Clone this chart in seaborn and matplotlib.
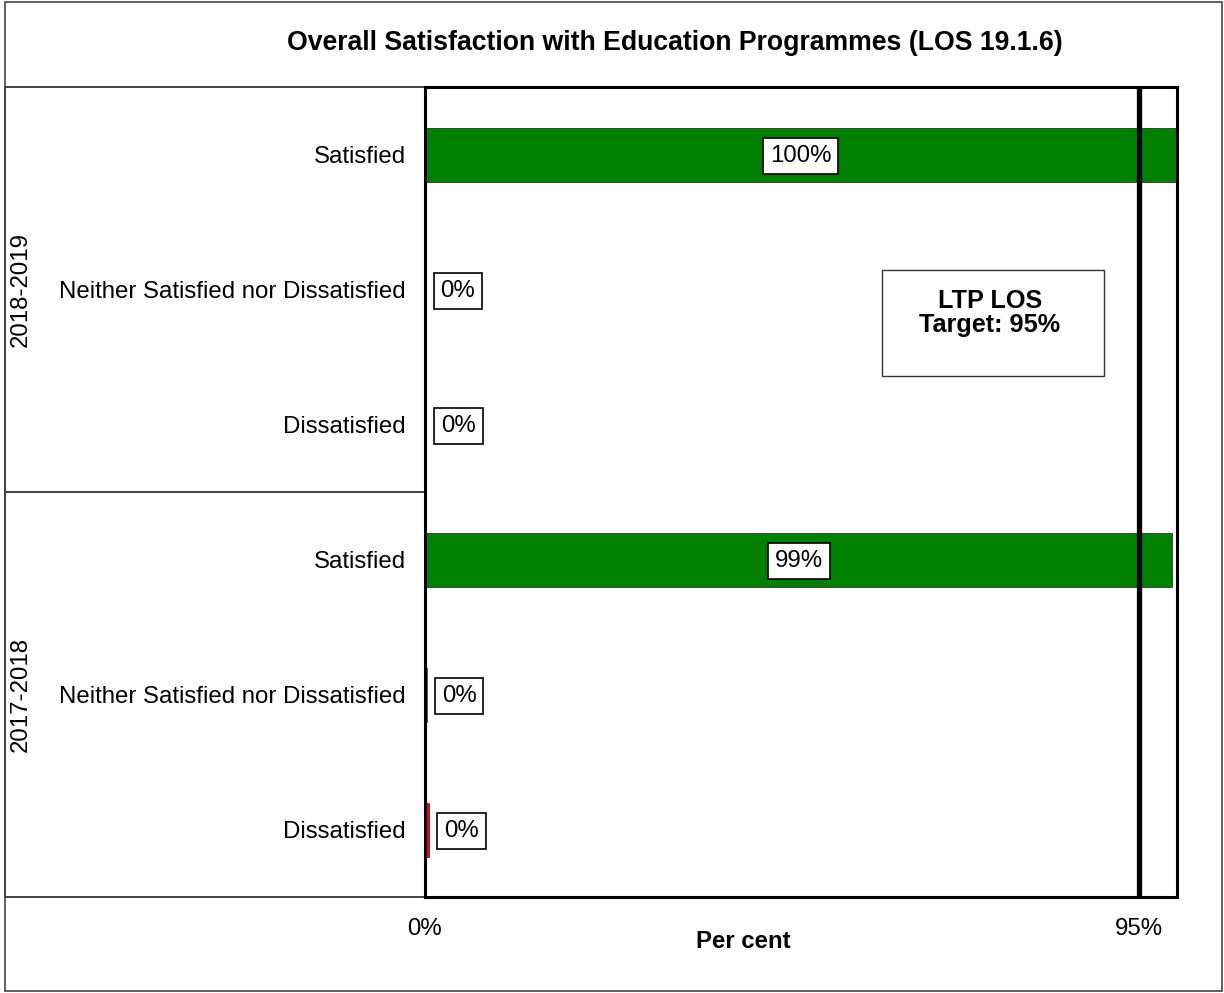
import matplotlib
matplotlib.use("Agg")
import matplotlib.pyplot as plt
from matplotlib.lines import Line2D
from matplotlib.patches import Rectangle
import seaborn as sns
import pandas as pd

# Survey results (per cent of respondents)
periods = ["2018-2019", "2017-2018"]
responses = ["Satisfied", "Neither Satisfied nor Dissatisfied", "Dissatisfied"]
values_2018_19 = [99.9, 0.0, 0.1]
values_2017_18 = [99.4, 0.2, 0.5]
target = 95
x_ticks = [0, 95]
x_tick_labels = ["0%", "95%"]
response_colors = {"Satisfied": "#008000",
                   "Neither Satisfied nor Dissatisfied": "#FFC000",
                   "Dissatisfied": "#FF0000"}

rows = []
for period, vals in zip(periods, [values_2018_19, values_2017_18]):
    for resp, v in zip(responses, vals):
        rows.append({"row": f"{period} | {resp}", "period": period,
                     "response": resp, "value": v})
df = pd.DataFrame(rows)

sns.set_theme(style="white")
plt.rcParams["font.family"] = ["Liberation Sans", "DejaVu Sans"]
for key in ["text.color", "axes.labelcolor", "xtick.color", "ytick.color"]:
    plt.rcParams[key] = "black"
FS = 17.3

fig = plt.figure(figsize=(12.24, 9.93), dpi=100)
ax = fig.add_axes([425 / 1224, 1 - 897 / 993, 752 / 1224, 810 / 993])

sns.barplot(data=df, x="value", y="row", hue="response", palette=response_colors,
            saturation=1, dodge=False, width=0.4, edgecolor="#1a1a1a",
            linewidth=0.5, legend=False, ax=ax, orient="h")

ax.set_xlim(0, 100)
ax.set_ylim(len(df) - 0.5, -0.5)

# Target line
ax.axvline(target, color="black", lw=3.8, zorder=3)

# Value labels
for i, r in df.iterrows():
    label = f"{round(r['value']):.0f}%"
    box = dict(boxstyle="square,pad=0.28", fc="white", ec="black", lw=1.2)
    if r["value"] > 10:
        ax.annotate(label, xy=(r["value"] / 2, i), xytext=(0, -1),
                    textcoords="offset points", ha="center", va="center",
                    fontsize=FS, bbox=box, zorder=5)
    else:
        ax.annotate(label, xy=(r["value"], i), xytext=(11, -1),
                    textcoords="offset points", ha="left", va="center",
                    fontsize=FS, bbox=box, zorder=5)

# Axes styling
for s in ax.spines.values():
    s.set_visible(True)
    s.set_color("black")
    s.set_linewidth(2.2)
ax.set_yticks(range(len(df)))
ax.set_yticklabels(df["response"], fontsize=FS)
ax.tick_params(axis="y", length=0, pad=14)
ax.set_xticks(x_ticks)
ax.set_xticklabels(x_tick_labels, fontsize=FS)
ax.tick_params(axis="x", length=0, pad=15)
ax.set_ylabel("")
ax.set_xlabel("Per cent", fontsize=FS, fontweight="bold")
ax.xaxis.set_label_coords((743 - 425) / 752, (897 - 942) / 810)
ax.xaxis.label.set_va("center")

# Group labels and separators in the left column
left_x = (5 - 425) / 752
n_groups = len(periods)
for g, period in enumerate(periods):
    yc = 1 - (g + 0.5) / n_groups
    ax.text((21 - 425) / 752, yc, period, rotation=90, ha="center", va="center",
            fontsize=FS, transform=ax.transAxes)
for yf in [0.0, 0.5, 1.0]:
    ax.add_line(Line2D([left_x, 0], [yf, yf], transform=ax.transAxes,
                       color="#222222", lw=1.2, clip_on=False))
ax.add_line(Line2D([left_x, left_x], [1.0, 0.0], transform=ax.transAxes,
                   color="#222222", lw=1.2, clip_on=False))

# Target annotation box
ax.add_patch(Rectangle(((882 - 425) / 752, (897 - 376) / 810),
                       222 / 752, 106 / 810, transform=ax.transAxes,
                       fc="white", ec="#333333", lw=1.0, zorder=4))
ax.text((990 - 425) / 752, (897 - 313) / 810, "LTP LOS\nTarget: 95%",
        transform=ax.transAxes, ha="center", va="center", fontsize=18.2,
        fontweight="bold", linespacing=1.05, zorder=5)

# Title
fig.text(675 / 1224, 1 - 43 / 993,
         "Overall Satisfaction with Education Programmes (LOS 19.1.6)",
         ha="center", va="center", fontsize=19.2, fontweight="bold")

# Outer frame
fig.patches.append(Rectangle((5 / 1224, 2 / 993), 1217 / 1224, 989 / 993,
                             transform=fig.transFigure, fill=False,
                             ec="#444444", lw=1.2))

fig.savefig("out.png", dpi=100)
